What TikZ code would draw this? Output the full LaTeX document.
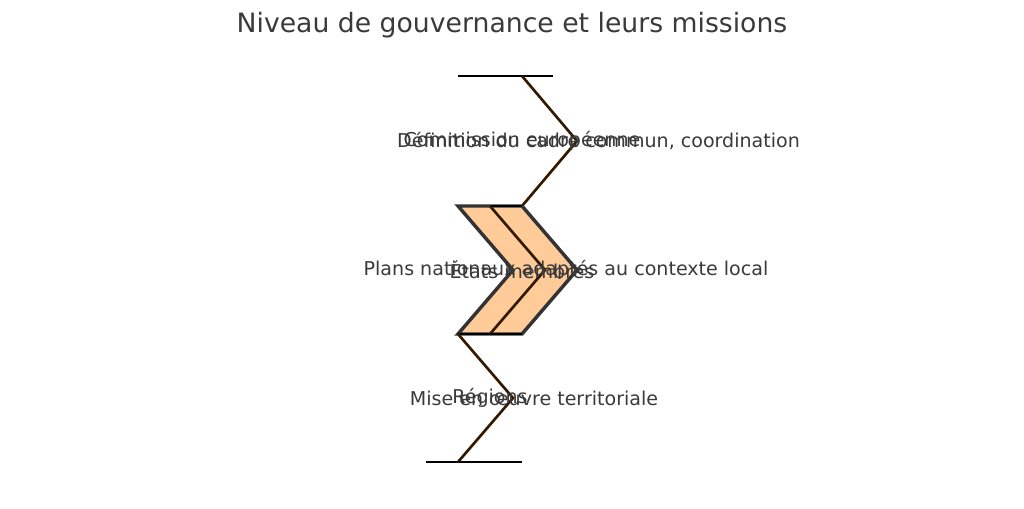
\documentclass[tikz,border=0pt]{standalone}
\usepackage{fontspec}
\setmainfont{DejaVu Sans}
\definecolor{txt}{HTML}{3A3A3A}
\definecolor{fillo}{HTML}{FFCC99}
\begin{document}
\begin{tikzpicture}[x=0.75pt,y=-0.75pt,
  lbl/.style={text=txt,font=\fontsize{14.3}{16}\selectfont,inner sep=0pt,anchor=center},
  ln/.style={draw=black,line width=1.6pt},
  zz/.style={draw=black!80!orange,line width=2pt}]
\useasboundingbox (0,0) rectangle (1024,508);
\node[text=txt,font=\fontsize{20}{24}\selectfont] (title) at (512,25) {Niveau de gouvernance et leurs missions};
% top
\draw[ln] (458,76) -- (553,76);
\draw[zz] (522,76) -- (577,141) -- (522,206);
% middle chevron
\draw[fill=fillo,draw=black!80,line width=2.6pt,line join=miter] (458,206) -- (522,206) -- (577,270) -- (522,334) -- (458,334) -- (513,270) -- cycle;
\draw[ln] (490,206) -- (522,206);
\draw[zz] (490,206) -- (545,270) -- (490,334);
\draw[ln] (458,334) -- (522,334);
% bottom
\draw[zz] (458,334) -- (513,398) -- (458,462);
\draw[ln] (426,462) -- (522,462);
\node[lbl] (n1) at (522,141) {Commission européenne};
\node[lbl] (d1) at (598.5,141) {Définition du cadre commun, coordination};
\node[lbl] (n2) at (522,270) {États membres};
\node[lbl] (d2) at (566,270) {Plans nationaux adaptés au contexte local};
\node[lbl] (n3) at (490,398) {Régions};
\node[lbl] (d3) at (534,398) {Mise en œuvre territoriale};
\end{tikzpicture}
\end{document}
